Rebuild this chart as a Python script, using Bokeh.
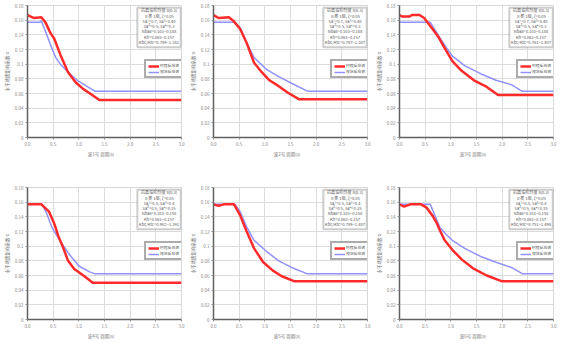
from bokeh.plotting import figure
from bokeh.layouts import gridplot
from bokeh.models import (Range1d, FixedTicker, CustomJSTickFormatter, BoxAnnotation,
                          Legend, LegendItem, ColumnDataSource)
from bokeh.core.properties import value
from bokeh.embed import file_html
from bokeh.resources import INLINE

# ---- data (period T in s, seismic influence coefficient alpha) ----
red_T1 = [0, 0.12, 0.27, 0.35, 0.45, 0.52, 0.64, 0.79, 0.94, 1.09, 1.24, 1.40, 3.0]
red_A1 = [0.167, 0.163, 0.164, 0.157, 0.142, 0.135, 0.113, 0.089, 0.075, 0.066, 0.059, 0.051, 0.051]
blue_T1 = [0, 0.24, 0.27, 0.36, 0.45, 0.55, 0.64, 0.79, 0.97, 1.15, 1.32, 3.0]
blue_A1 = [0.157, 0.157, 0.159, 0.143, 0.126, 0.109, 0.100, 0.089, 0.078, 0.070, 0.063, 0.063]

red_T2 = [0, 0.1, 0.3, 0.39, 0.52, 0.64, 0.79, 0.94, 1.09, 1.27, 1.45, 1.67, 3.0]
red_A2 = [0.167, 0.163, 0.164, 0.159, 0.148, 0.130, 0.102, 0.089, 0.078, 0.070, 0.061, 0.052, 0.052]
blue_T2 = [0, 0.4, 0.52, 0.64, 0.79, 1.03, 1.27, 1.52, 1.84, 3.0]
blue_A2 = [0.157, 0.157, 0.150, 0.130, 0.109, 0.093, 0.083, 0.074, 0.063, 0.063]

red_T3 = [0, 0.05, 0.2, 0.24, 0.39, 0.48, 0.6, 0.76, 0.88, 1.03, 1.21, 1.45, 1.70, 1.92, 3.0]
red_A3 = [0.167, 0.165, 0.165, 0.167, 0.167, 0.163, 0.152, 0.137, 0.122, 0.104, 0.091, 0.078, 0.069, 0.058, 0.058]
blue_T3 = [0, 0.6, 0.76, 0.88, 1.03, 1.27, 1.58, 1.88, 2.18, 2.39, 3.0]
blue_A3 = [0.157, 0.157, 0.139, 0.126, 0.111, 0.098, 0.087, 0.078, 0.072, 0.063, 0.063]

red_T4 = [0, 0.27, 0.42, 0.52, 0.6, 0.7, 0.79, 0.91, 1.09, 1.27, 3.0]
red_A4 = [0.157, 0.157, 0.147, 0.131, 0.114, 0.097, 0.080, 0.069, 0.060, 0.050, 0.050]
blue_T4 = [0, 0.27, 0.36, 0.48, 0.61, 0.79, 1.0, 1.21, 1.30, 3.0]
blue_A4 = [0.157, 0.158, 0.147, 0.125, 0.110, 0.091, 0.073, 0.065, 0.0625, 0.0625]

red_T5 = [0, 0.1, 0.2, 0.4, 0.52, 0.64, 0.79, 0.97, 1.15, 1.33, 1.58, 3.0]
red_A5 = [0.157, 0.155, 0.157, 0.157, 0.142, 0.121, 0.097, 0.078, 0.067, 0.059, 0.052, 0.052]
blue_T5 = [0, 0.42, 0.52, 0.64, 0.79, 1.03, 1.27, 1.52, 1.82, 3.0]
blue_A5 = [0.157, 0.157, 0.147, 0.127, 0.108, 0.093, 0.080, 0.071, 0.0625, 0.0625]

red_T6 = [0, 0.09, 0.21, 0.42, 0.52, 0.64, 0.73, 0.79, 0.88, 1.03, 1.21, 1.45, 1.70, 2.0, 3.0]
red_A6 = [0.157, 0.154, 0.157, 0.157, 0.153, 0.142, 0.131, 0.121, 0.108, 0.095, 0.082, 0.069, 0.060, 0.052, 0.052]
blue_T6 = [0, 0.6, 0.7, 0.79, 0.91, 1.03, 1.27, 1.58, 1.88, 2.18, 2.39, 3.0]
blue_A6 = [0.157, 0.157, 0.140, 0.125, 0.116, 0.108, 0.097, 0.086, 0.078, 0.071, 0.0625, 0.0625]

x_ticks = [0, 0.5, 1.0, 1.5, 2.0, 2.5, 3.0]
y_ticks = [0, 0.02, 0.04, 0.06, 0.08, 0.1, 0.12, 0.14, 0.16, 0.18]

wave_names = ["波1号", "波2号", "波3号", "波4号", "波5号", "波6号"]
legend_labels = ["时程反应谱", "规范反应谱"]
y_title = "水平地震影响系数 α"
x_title = "周期(s)"

info_top = ["抗震设防烈度 8(0.3)", "Ⅱ类 1组, ζ=0.05", "Sa¹=0.7, Sa²=0.40", "Sa³=0.5, Sa⁴=0.3",
            "Nbas=0.103~0.188", "Kh=0.063~0.157"]
info_bot = ["抗震设防烈度 8(0.3)", "Ⅱ类 1组, ζ=0.05", "Sa¹=0.5, Sa²=0.4", "Sa³=0.5, Sa⁴=0.35",
            "Nbas=0.103~0.158", "Kh=0.063~0.157"]
ratio_ranges = ["0.789~1.381", "0.787~1.307", "0.761~1.407", "0.902~1.391", "0.789~1.407", "0.751~1.498"]

panels = [
    (red_T1, red_A1, blue_T1, blue_A1),
    (red_T2, red_A2, blue_T2, blue_A2),
    (red_T3, red_A3, blue_T3, blue_A3),
    (red_T4, red_A4, blue_T4, blue_A4),
    (red_T5, red_A5, blue_T5, blue_A5),
    (red_T6, red_A6, blue_T6, blue_A6),
]

CJK = "Noto Sans CJK SC"
RED = "#ff2b2b"
BLUE = "#8585ff"


def make_panel(i, rt, ra, bt, ba):
    top_row = i < 3
    p = figure(frame_width=154, frame_height=132,
               x_range=Range1d(0, 3.0), y_range=Range1d(0, 0.18),
               output_backend="svg", toolbar_location=None,
               min_border_left=22, min_border_right=5,
               min_border_top=5 if top_row else 13,
               min_border_bottom=37 if top_row else 24)
    p.outline_line_color = "#d8d8d8"
    p.background_fill_color = "white"
    p.border_fill_color = "white"

    p.xaxis.ticker = FixedTicker(ticks=x_ticks)
    p.yaxis.ticker = FixedTicker(ticks=y_ticks)
    p.xaxis.formatter = CustomJSTickFormatter(code="return tick.toFixed(1);")
    p.yaxis.formatter = CustomJSTickFormatter(
        code="if (Math.abs(tick) < 1e-9) return '0'; return (Math.round(tick*100)/100).toString();")
    for ax in (p.xaxis, p.yaxis):
        ax.axis_line_color = "#606060"
        ax.axis_line_width = 1.5
        ax.major_tick_line_color = "#909090"
        ax.major_tick_out = 2
        ax.major_tick_in = 0
        ax.minor_tick_line_color = None
        ax.major_label_text_font_size = "4.5px"
        ax.major_label_text_color = "#888888"
        ax.major_label_text_font = CJK
        ax.major_label_standoff = 2
        ax.axis_label_text_font = CJK
        ax.axis_label_text_font_size = "4.5px"
        ax.axis_label_text_font_style = "normal"
        ax.axis_label_text_color = "#777777"
        ax.axis_label_standoff = 2
    p.yaxis.axis_label = y_title
    p.xaxis.axis_label = wave_names[i] + "        " + x_title
    p.grid.grid_line_color = "#dcdcdc"
    p.grid.grid_line_width = 1

    r_blue = p.line(bt, ba, line_color=BLUE, line_width=1.5, line_alpha=0.9)
    r_red = p.line(rt, ra, line_color=RED, line_width=2.5)

    # info box
    box = BoxAnnotation(left=2.14, right=2.985, top=0.177, bottom=0.123,
                        fill_color="white", fill_alpha=1.0,
                        line_color="#5a5a5a", line_width=2)
    p.add_layout(box)
    lines = (info_top if top_row else info_bot) + ["Kbc/Ktc=" + ratio_ranges[i]]
    n = len(lines)
    ys = [0.1735 - k * 0.0072 for k in range(n)]
    src = ColumnDataSource(dict(x=[2.5625] * n, y=ys, t=lines))
    p.text(x="x", y="y", text="t", source=src, text_font=value(CJK),
           text_font_size="4.1px", text_color="#555555",
           text_align="center", text_baseline="middle", level="overlay")

    legend = Legend(items=[LegendItem(label=legend_labels[0], renderers=[r_red]),
                           LegendItem(label=legend_labels[1], renderers=[r_blue])],
                    location=(117, 59), orientation="vertical",
                    label_text_font=CJK, label_text_font_size="3.8px",
                    label_text_color="#555555",
                    glyph_width=11, glyph_height=4, label_height=4, label_width=19,
                    label_standoff=1, padding=2, spacing=1, margin=0,
                    border_line_color="#5a5a5a", border_line_width=2,
                    background_fill_alpha=1.0)
    p.add_layout(legend)
    return p


figs = [make_panel(i, *panels[i]) for i in range(6)]
grid = gridplot([figs[:3], figs[3:]], toolbar_location=None)

open("out.html", "w").write(file_html(grid, INLINE))
